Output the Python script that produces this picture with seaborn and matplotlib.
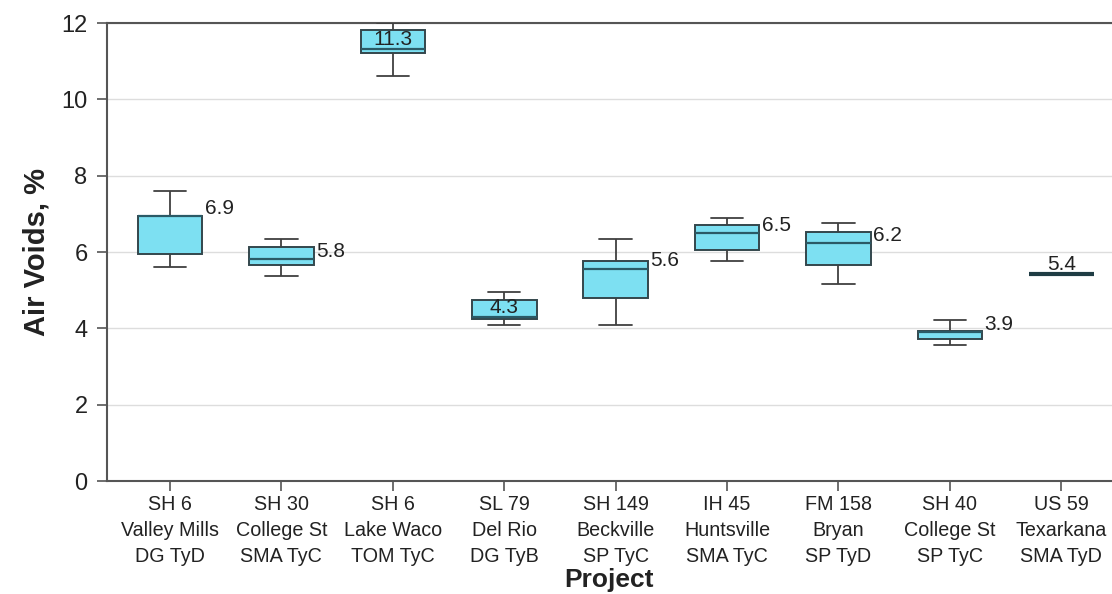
import numpy as np
import pandas as pd
import matplotlib
matplotlib.use("Agg")
import matplotlib.pyplot as plt
import seaborn as sns

projects = ["SH 6\nValley Mills\nDG TyD", "SH 30\nCollege St\nSMA TyC", "SH 6\nLake Waco\nTOM TyC",
            "SL 79\nDel Rio\nDG TyB", "SH 149\nBeckville\nSP TyC", "IH 45\nHuntsville\nSMA TyC",
            "FM 158\nBryan\nSP TyD", "SH 40\nCollege St\nSP TyC", "US 59\nTexarkana\nSMA TyD"]
whisker_low = [5.61, 5.37, 10.61, 4.09, 4.10, 5.76, 5.16, 3.57, 5.42]
q1 = [5.95, 5.66, 11.22, 4.24, 4.80, 6.05, 5.66, 3.73, 5.42]
median = [6.94, 5.82, 11.31, 4.30, 5.57, 6.49, 6.23, 3.90, 5.42]
q3 = [6.94, 6.14, 11.83, 4.74, 5.77, 6.71, 6.52, 3.94, 5.42]
whisker_high = [7.60, 6.34, 12.00, 4.95, 6.34, 6.90, 6.76, 4.23, 5.42]
label_pos = ["right", "right", "center", "center", "right", "right", "right", "right", "center"]

rows = []
for p, a, b, c, d, e in zip(projects, whisker_low, q1, median, q3, whisker_high):
    for v in (a, b, c, d, e):
        rows.append({"Project": p, "Air Voids": v})
df = pd.DataFrame(rows)

sns.set_theme(style="white")
plt.rcParams["font.family"] = ["Liberation Sans", "DejaVu Sans"]

fig = plt.figure(figsize=(11.12, 5.94), dpi=100)
ax = fig.add_axes([0.0962, 0.190, 0.9038, 0.771])

edge = "#33464c"
sns.boxplot(data=df, x="Project", y="Air Voids", order=projects, whis=np.inf, width=0.58,
            color="#7de0f2", saturation=1, linecolor=edge, linewidth=1.4, showfliers=False,
            medianprops={"color": "#2a5a66", "linewidth": 1.6},
            whiskerprops={"color": "#404040", "linewidth": 1.3},
            capprops={"color": "#404040", "linewidth": 1.3},
            boxprops={"edgecolor": edge}, ax=ax, zorder=3)

# degenerate box (all values equal) drawn as a thick line in the reference
for i, (lo, hi) in enumerate(zip(whisker_low, whisker_high)):
    if hi - lo < 1e-9:
        ax.plot([i - 0.29, i + 0.29], [median[i], median[i]], color="#1f3c44", linewidth=3,
                solid_capstyle="butt", zorder=4)

for i, (m, pos) in enumerate(zip(median, label_pos)):
    txt = f"{m:.1f}"
    if pos == "right":
        ax.text(i + 0.31, m + 0.2, txt, ha="left", va="center", fontsize=15, color="#222222", zorder=5)
    else:
        ax.text(i, m + 0.25, txt, ha="center", va="center", fontsize=15, color="#222222", zorder=5)

ax.set_ylim(0, 12)
ax.set_xlim(-0.566, 8.456)
ax.set_yticks([0, 2, 4, 6, 8, 10, 12])
ax.yaxis.grid(True, color="#dddddd", linewidth=1.0, zorder=0)
ax.set_axisbelow(True)
for s in ["left", "bottom", "top"]:
    ax.spines[s].set_color("#555555")
    ax.spines[s].set_linewidth(1.5)
ax.spines["right"].set_visible(False)

ax.tick_params(axis="both", which="both", direction="out", length=7, width=1.2, color="#555555",
               bottom=True, left=True)
ax.tick_params(axis="y", labelsize=17, labelcolor="#222222", pad=7)
ax.tick_params(axis="x", labelcolor="#222222", pad=3)
for lab in ax.get_xticklabels():
    lab.set_fontsize(14.2)
    lab.set_linespacing(1.48)

ax.set_ylabel("Air Voids, %", fontsize=21, fontweight="bold", color="#222222", labelpad=8)
ax.set_xlabel("Project", fontsize=19, fontweight="bold", color="#222222", labelpad=1)

fig.savefig("out.png", dpi=100)
